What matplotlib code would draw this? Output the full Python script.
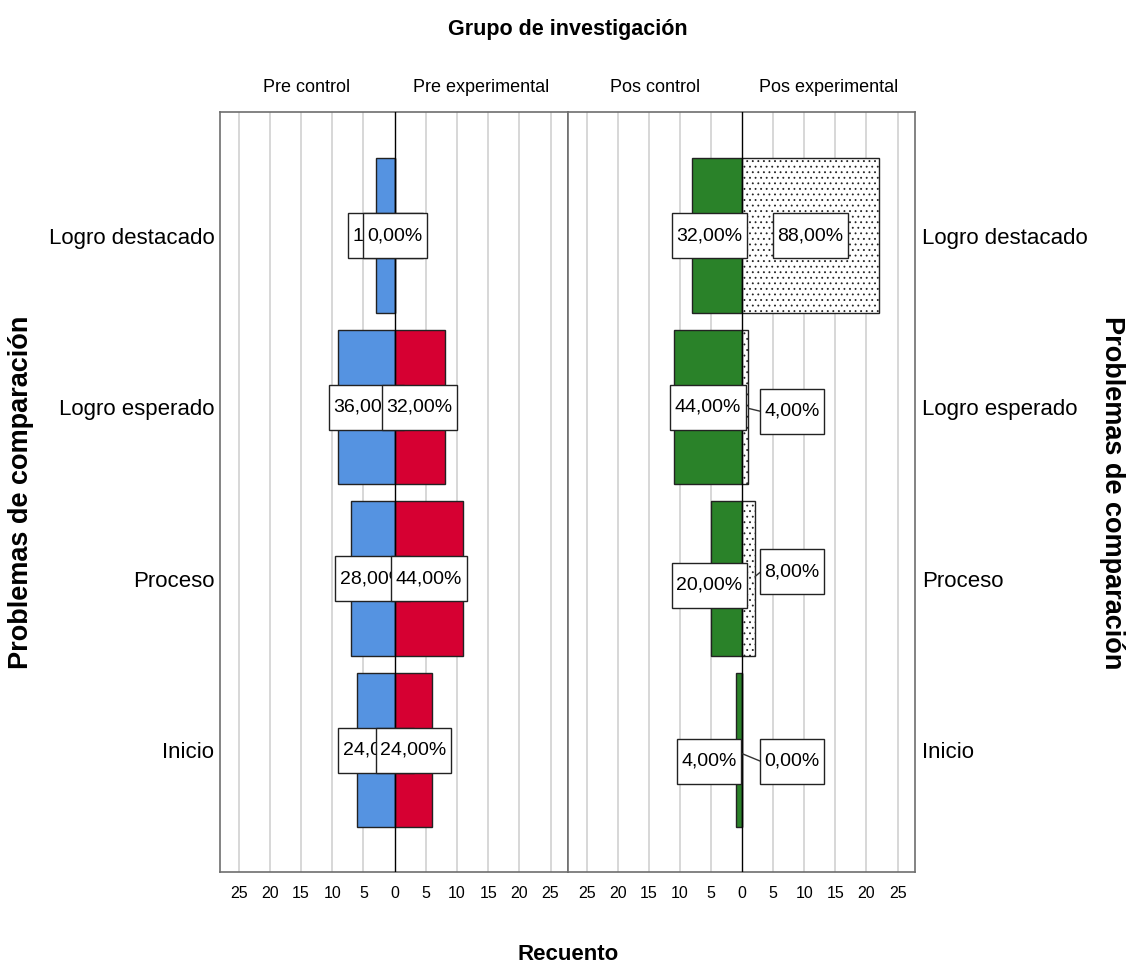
# Pirámide de recuentos: Pre / Pos, control vs experimental
import numpy as np
from matplotlib import pyplot as plt
from matplotlib.path import Path

plt.rcParams['font.family'] = ['Liberation Sans', 'DejaVu Sans']
plt.rcParams['hatch.color'] = '#5a5a5a'
plt.rcParams['hatch.linewidth'] = 0.6

# Datos (recuentos, n = 25 por grupo)
categories = ['Inicio', 'Proceso', 'Logro esperado', 'Logro destacado']
n_group = 25
pre_control = [6, 7, 9, 3]
pre_exp = [6, 11, 8, 0]
pos_control = [1, 5, 11, 8]
pos_exp = [0, 2, 1, 22]
group_names = ['Pre control', 'Pre experimental', 'Pos control', 'Pos experimental']

# pequeños ajustes verticales de etiquetas (evitar choques, como SPSS)
pos_ctrl_dy = [-0.065, -0.04, 0.0, 0.0]
pos_exp_dy = [-0.065, 0.04, -0.025, 0.0]

BLUE = '#5593E1'
RED = '#D60032'
GREEN = '#2A8229'

fig = plt.figure(figsize=(11.29, 9.67), dpi=100)
ax1 = fig.add_axes([220 / 1129, 1 - 872 / 967, 348 / 1129, 760 / 967])
ax2 = fig.add_axes([568 / 1129, 1 - 872 / 967, 347 / 1129, 760 / 967])

y = np.arange(len(categories))
bar_h = 0.9


def tall_box(x0, y0, width, height, mutation_size):
    # caja de etiqueta más alta que ancha, como en SPSS
    px = 0.23 * mutation_size
    py = 0.72 * mutation_size
    x0, y0 = x0 - px, y0 - py
    x1, y1 = x0 + width + 2 * px, y0 + height + 2 * py
    return Path([(x0, y0), (x1, y0), (x1, y1), (x0, y1), (x0, y0)], closed=True)


box = dict(boxstyle=tall_box, fc='white', ec='#222222', lw=1.0)


def pct(v):
    return f"{v / n_group * 100:.2f}%".replace('.', ',')


def setup(ax, names):
    ax.set_xlim(-28, 27.8)
    ax.set_ylim(-0.71, 3.72)
    for g in range(-25, 30, 5):
        if g != 0:
            ax.axvline(g, color='#d4d4d4', lw=1.3, zorder=0)
    ax.axvline(0, color='black', lw=1.0, zorder=3)
    ticks = np.arange(-25, 30, 5)
    ax.set_xticks(ticks)
    ax.set_xticklabels([str(abs(t)) for t in ticks], fontsize=11.5)
    ax.tick_params(axis='x', length=0, pad=10)
    ax.set_yticks(y)
    for s in ax.spines.values():
        s.set_color('#6e6e6e')
        s.set_linewidth(1.2)
    ax.text(0.25, 1.032, names[0], transform=ax.transAxes, ha='center', va='center', fontsize=13)
    ax.text(0.75, 1.032, names[1], transform=ax.transAxes, ha='center', va='center', fontsize=13)


setup(ax1, group_names[:2])
setup(ax2, group_names[2:])

# Panel Pre
ax1.barh(y, [-v for v in pre_control], height=bar_h, color=BLUE, edgecolor='#222222', lw=1, zorder=2)
ax1.barh(y, pre_exp, height=bar_h, color=RED, edgecolor='#222222', lw=1, zorder=2)
for i in range(len(categories)):
    ax1.text(-pre_control[i] / 2, y[i], pct(pre_control[i]), ha='center', va='center',
             fontsize=14, bbox=box, zorder=5)
    ax1.text(pre_exp[i] / 2, y[i], pct(pre_exp[i]), ha='center', va='center',
             fontsize=14, bbox=box, zorder=6)

# Panel Pos
ax2.barh(y, [-v for v in pos_control], height=bar_h, color=GREEN, edgecolor='#222222', lw=1, zorder=2)
ax2.barh(y, pos_exp, height=bar_h, color='white', edgecolor='#222222', lw=1, hatch='...', zorder=2)
for i in range(len(categories)):
    xc = min(-pos_control[i] / 2, -5.3)
    ax2.text(xc, y[i] + pos_ctrl_dy[i], pct(pos_control[i]), ha='center', va='center',
             fontsize=14, bbox=box, zorder=5)
    if pos_exp[i] < 3:
        ye = y[i] + pos_exp_dy[i]
        ax2.plot([pos_exp[i] + 0.1, 3.0], [y[i] + pos_exp_dy[i] / 3, ye], color='#333333', lw=1, zorder=4)
        ax2.text(8.0, ye, pct(pos_exp[i]), ha='center', va='center', fontsize=14, bbox=box, zorder=6)
    else:
        ax2.text(pos_exp[i] / 2, y[i], pct(pos_exp[i]), ha='center', va='center',
                 fontsize=14, bbox=box, zorder=6)

# Etiquetas de categorías
ax1.set_yticklabels(categories, fontsize=16)
ax1.tick_params(axis='y', length=0, pad=4)
ax2.yaxis.tick_right()
ax2.set_yticklabels(categories, fontsize=16)
ax2.tick_params(axis='y', length=0, pad=5)

fig.text(568 / 1129, 0.969, 'Grupo de investigación', ha='center', va='center',
         fontsize=15.5, fontweight='bold')
fig.text(568 / 1129, 1 - 955 / 967, 'Recuento', ha='center', va='center',
         fontsize=16, fontweight='bold')
fig.text(21 / 1129, 0.491, 'Problemas de comparación', ha='center', va='center',
         rotation=90, fontsize=19.5, fontweight='bold')
fig.text(1112 / 1129, 0.491, 'Problemas de comparación', ha='center', va='center',
         rotation=270, fontsize=19.5, fontweight='bold')

fig.savefig('out.png', dpi=100)
